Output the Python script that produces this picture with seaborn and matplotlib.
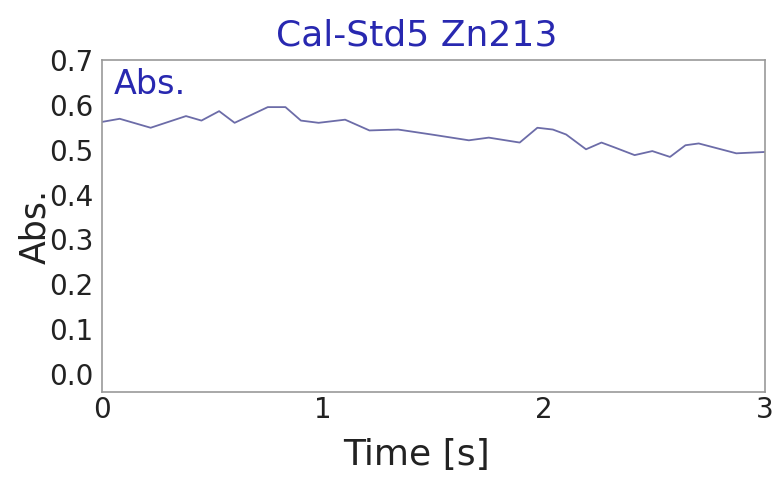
import numpy as np
import pandas as pd
import matplotlib
matplotlib.use("Agg")
import matplotlib.pyplot as plt
import seaborn as sns

# absorbance trace
time_s = [0.00, 0.08, 0.22, 0.38, 0.45, 0.53, 0.60, 0.75, 0.83, 0.90, 0.98,
          1.10, 1.21, 1.34, 1.49, 1.66, 1.75, 1.89, 1.97, 2.04, 2.10, 2.19,
          2.26, 2.32, 2.41, 2.49, 2.57, 2.64, 2.70, 2.87, 3.00]
absorbance = [0.562, 0.569, 0.549, 0.575, 0.565, 0.586, 0.560, 0.595, 0.595,
              0.565, 0.560, 0.567, 0.543, 0.545, 0.534, 0.521, 0.527, 0.516,
              0.549, 0.545, 0.534, 0.501, 0.516, 0.505, 0.488, 0.497, 0.484,
              0.510, 0.514, 0.492, 0.495]
y_ticks = [0.0, 0.1, 0.2, 0.3, 0.4, 0.5, 0.6, 0.7]
x_ticks = [0, 1, 2, 3]

df = pd.DataFrame({"Time": time_s, "Abs": absorbance})

sns.set_style("white")
plt.rcParams["font.family"] = ["DejaVu Sans"]

blue = "#2828b0"
fig = plt.figure(figsize=(7.74, 4.8), dpi=100)
ax = fig.add_axes([0.1318, 0.1833, 0.8566, 0.6917])

sns.lineplot(data=df, x="Time", y="Abs", ax=ax, color="#6c6ca8", linewidth=1.3)

ax.set_xlim(0, 3)
ax.set_ylim(-0.04, 0.70)
ax.set_xticks(x_ticks)
ax.set_xticklabels([str(t) for t in x_ticks])
ax.set_yticks(y_ticks)
ax.set_yticklabels([f"{v:.1f}" for v in y_ticks])
ax.tick_params(direction="in", length=3, color="#999999", labelsize=20,
               labelcolor="#222222")
ax.tick_params(axis="y", pad=6)
ax.tick_params(axis="x", pad=3)

for s in ax.spines.values():
    s.set_color("#999999")
    s.set_linewidth(1.2)

ax.set_xlabel("Time [s]", fontsize=26, color="#222222", va="center")
ax.xaxis.set_label_coords(0.474, -0.19)
ax.set_ylabel("Abs.", fontsize=25, color="#222222", va="center")
ax.yaxis.set_label_coords(-0.101, 0.50)

ax.text(0.474, 1.075, "Cal-Std5 Zn213", transform=ax.transAxes, ha="center",
        va="center", fontsize=26, color=blue)
ax.text(0.017, 0.925, "Abs.", transform=ax.transAxes, ha="left",
        va="center", fontsize=24, color=blue)

fig.savefig("out.png", dpi=100)
